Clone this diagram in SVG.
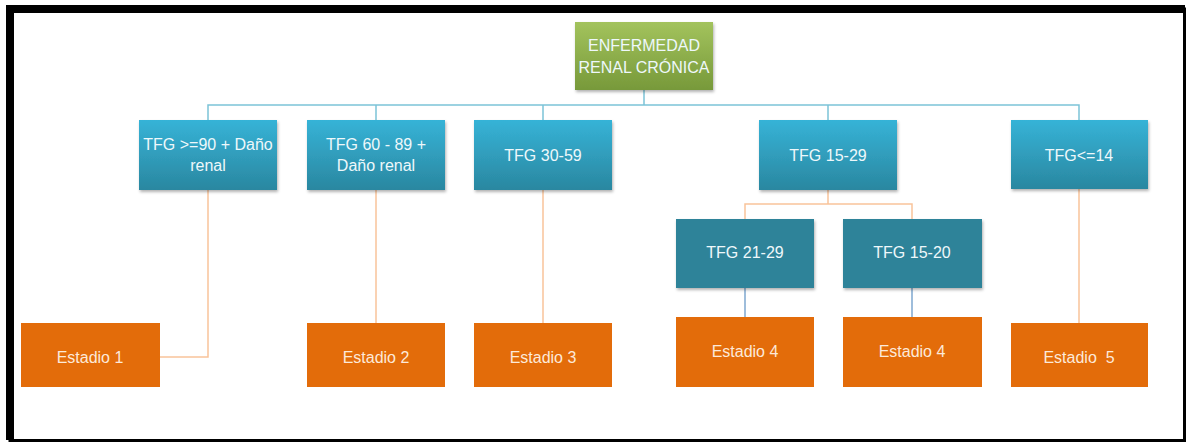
<svg xmlns="http://www.w3.org/2000/svg" width="1189" height="443" viewBox="0 0 1189 443">
<defs>
<linearGradient id="gGreen" x1="0" y1="0" x2="0" y2="1"><stop offset="0" stop-color="#a3c35d"/><stop offset="1" stop-color="#77993a"/></linearGradient>
<linearGradient id="gBlue" x1="0" y1="0" x2="0" y2="1"><stop offset="0" stop-color="#36b3d7"/><stop offset="1" stop-color="#2a87a0"/></linearGradient>
<filter id="sh" x="-10%" y="-10%" width="130%" height="130%"><feDropShadow dx="1" dy="2" stdDeviation="1.5" flood-color="#000" flood-opacity="0.3"/></filter>
<style>
text{font-family:"Liberation Sans",Arial,sans-serif;font-size:16px;text-anchor:middle;dominant-baseline:central}
.lv1{fill:url(#gBlue);filter:url(#sh)}
.lv3{fill:#2e8399;filter:url(#sh)}
.st{fill:#e36c0a}
.root{fill:url(#gGreen);filter:url(#sh)}
.tw{fill:#eef8fb}
.to{fill:#fde9d9}
.cb{stroke:#7cc3d8;stroke-width:1.5;fill:none}
.co{stroke:#f9c49a;stroke-width:1.5;fill:none}
.cb2{stroke:#7fa8d0;stroke-width:1.5;fill:none}
</style>
</defs>
<rect width="1189" height="443" fill="#fff"/>
<path d="M10 9 H1184.5 V440.5 H10 Z" fill="none" stroke="#000" stroke-width="3"/>
<path d="M10 440 V9 H1185" fill="none" stroke="#000" stroke-width="8"/>
<g id="connectors">
<path class="cb" d="M644 90 V105 M208 120 V105 H1079 V120 M376 105 V120 M543 105 V120 M828 105 V120"/>
<path class="co" d="M208 190 V357 H160 M376 190 V323 M543 190 V323 M1079 189 V323"/>
<path class="co" d="M828 190 V204 M745 219 V204 H912 V219"/>
<path class="cb2" d="M745 288 V317 M912 288 V317"/>
</g>
<g id="root"><rect class="root" x="575" y="22" width="138" height="68"/><text class="tw" x="644" y="45">ENFERMEDAD</text><text class="tw" x="644" y="67">RENAL CRÓNICA</text></g>
<g id="n1"><rect class="lv1" x="139" y="120" width="138" height="70"/><text class="tw" x="208" y="144">TFG &gt;=90 + Daño</text><text class="tw" x="208" y="165">renal</text></g>
<g id="n2"><rect class="lv1" x="307" y="120" width="138" height="70"/><text class="tw" x="376" y="144">TFG 60 - 89 +</text><text class="tw" x="376" y="165">Daño renal</text></g>
<g id="n3"><rect class="lv1" x="474" y="120" width="138" height="70"/><text class="tw" x="543" y="155">TFG 30-59</text></g>
<g id="n4"><rect class="lv1" x="759" y="120" width="138" height="70"/><text class="tw" x="828" y="155">TFG 15-29</text></g>
<g id="n5"><rect class="lv1" x="1011" y="120" width="137" height="69"/><text class="tw" x="1079" y="155">TFG&lt;=14</text></g>
<g id="n6"><rect class="lv3" x="676" y="219" width="138" height="69"/><text class="tw" x="745" y="252">TFG 21-29</text></g>
<g id="n7"><rect class="lv3" x="843" y="219" width="139" height="69"/><text class="tw" x="912" y="252">TFG 15-20</text></g>
<g id="e1"><rect class="st" x="21" y="323" width="139" height="64"/><text class="to" x="90" y="357">Estadio 1</text></g>
<g id="e2"><rect class="st" x="307" y="323" width="138" height="64"/><text class="to" x="376" y="357">Estadio 2</text></g>
<g id="e3"><rect class="st" x="474" y="323" width="138" height="64"/><text class="to" x="543" y="357">Estadio 3</text></g>
<g id="e4"><rect class="st" x="676" y="317" width="138" height="70"/><text class="to" x="745" y="351">Estadio 4</text></g>
<g id="e5"><rect class="st" x="843" y="317" width="139" height="70"/><text class="to" x="912" y="351">Estadio 4</text></g>
<g id="e6"><rect class="st" x="1011" y="323" width="137" height="64"/><text class="to" x="1079" y="357" xml:space="preserve">Estadio  5</text></g>
</svg>
